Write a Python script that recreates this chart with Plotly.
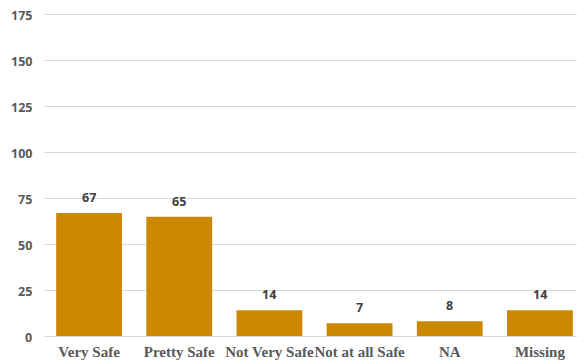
import plotly.graph_objects as go

categories = ["Very Safe", "Pretty Safe", "Not Very Safe", "Not at all Safe", "NA", "Missing"]
values = [67, 65, 14, 7, 8, 14]
y_ticks = [0, 25, 50, 75, 100, 125, 150, 175]

BAR = "#CC8800"
GRAY = "#595959"

fig = go.Figure()
fig.add_trace(go.Bar(
    x=categories, y=values,
    marker=dict(color=BAR, line=dict(width=0)),
    width=0.73,
    hoverinfo="skip",
))

for c, v in zip(categories, values):
    fig.add_annotation(
        x=c, y=v, text=f"<b>{v}</b>", showarrow=False,
        yanchor="bottom", yshift=5,
        font=dict(family="Open Sans", size=12.5, color="#404040"),
    )

# y tick labels as annotations so the top one (at the paper edge) is not dropped
for t in y_ticks:
    fig.add_annotation(
        xref="paper", x=0, yref="y", y=t, text=f"<b>{t}</b>", showarrow=False,
        xanchor="right", yanchor="middle", xshift=-11, yshift=-1, borderpad=0,
        font=dict(family="Open Sans", size=12.5, color=GRAY),
    )

fig.update_layout(
    width=585, height=364,
    margin=dict(l=36, r=8, t=5, b=36),
    paper_bgcolor="white", plot_bgcolor="white",
    showlegend=False,
    bargap=0.27,
    xaxis=dict(
        showgrid=False, showline=False, zeroline=False, ticks="",
        automargin=False, tickangle=0,
        tickfont=dict(family="Liberation Serif", size=15, color=GRAY, weight="bold"),
        ticklabelstandoff=5,
    ),
    yaxis=dict(
        range=[0, 176], tickvals=y_ticks, showticklabels=False,
        automargin=False,
        showgrid=True, gridcolor="#D9D9D9", gridwidth=1,
        zeroline=True, zerolinecolor="#D9D9D9", zerolinewidth=1,
        showline=False, ticks="",
    ),
)

fig.write_html("out.html")
